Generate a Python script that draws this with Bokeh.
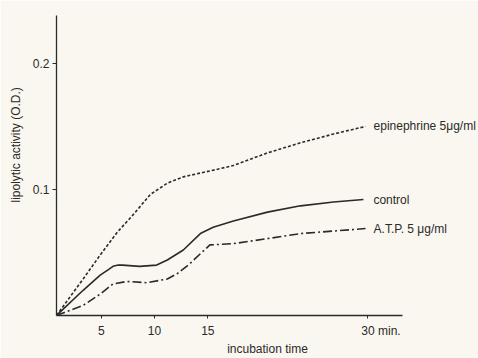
from bokeh.plotting import figure
from bokeh.models import Range1d, Label, FixedTicker, Title
from bokeh.embed import file_html
from bokeh.resources import INLINE

# ---- data ----
epi_t = [0.8, 3.3, 4.9, 6.5, 8.0, 9.6, 11.2, 12.7, 14.3, 15.9, 17.4, 19.0, 20.6, 23.7, 26.8, 29.8]
epi_v = [0.0, 0.029, 0.048, 0.066, 0.080, 0.096, 0.105, 0.110, 0.113, 0.116, 0.119, 0.124, 0.129, 0.137, 0.144, 0.150]

ctl_t = [0.8, 3.3, 4.9, 5.6, 6.1, 6.6, 7.0, 8.6, 10.2, 11.2, 12.7, 14.3, 15.5, 17.4, 20.6, 23.7, 26.8, 29.6]
ctl_v = [0.0, 0.020, 0.032, 0.036, 0.039, 0.040, 0.040, 0.039, 0.040, 0.044, 0.052, 0.065, 0.070, 0.075, 0.082, 0.087, 0.090, 0.092]

atp_t = [0.8, 3.3, 4.9, 6.1, 7.4, 9.3, 11.2, 12.1, 13.3, 14.3, 15.2, 17.4, 20.6, 23.7, 26.8, 29.8]
atp_v = [0.0, 0.008, 0.017, 0.025, 0.027, 0.026, 0.029, 0.033, 0.041, 0.049, 0.056, 0.057, 0.061, 0.065, 0.067, 0.069]

series_names = ["epinephrine 5\u03bcg/ml", "control", "A.T.P. 5 \u03bcg/ml"]
x_ticks = [5, 10, 15, 30]
x_tick_labels = ["5", "10", "15", "\u2007\u2007\u2007\u200730 min."]
y_ticks = [0.1, 0.2]
y_tick_labels = ["0.1", "0.2"]

INK = "#2a2a2a"
PAPER = "#faf7f0"
FONT = "Liberation Sans"

p = figure(width=478, height=358, output_backend="svg", toolbar_location=None,
           x_range=Range1d(0.8, 40.4), y_range=Range1d(0, 0.238),
           min_border_left=56, min_border_right=0, min_border_top=15, min_border_bottom=43)
p.background_fill_color = PAPER
p.border_fill_color = PAPER
p.outline_line_color = None
p.grid.visible = False

for ax in (p.xaxis, p.yaxis):
    ax.axis_line_color = INK
    ax.axis_line_width = 1.3
    ax.major_tick_line_color = INK
    ax.major_tick_in = 0
    ax.minor_tick_line_color = None
    ax.major_label_text_color = INK
    ax.major_label_text_font = FONT
    ax.major_label_text_font_size = "12px"

p.xaxis.bounds = (0.8, 33.27)
p.xaxis.ticker = FixedTicker(ticks=x_ticks)
p.xaxis.major_label_overrides = dict(zip(x_ticks, x_tick_labels))
p.xaxis.major_tick_out = 3
p.xaxis.major_label_standoff = 5
p.xaxis.axis_label = "incubation time"
p.xaxis.axis_label_standoff = 1
p.xaxis.axis_label_text_font = FONT
p.xaxis.axis_label_text_font_size = "12px"
p.xaxis.axis_label_text_font_style = "normal"
p.xaxis.axis_label_text_color = INK

p.yaxis.ticker = FixedTicker(ticks=y_ticks)
p.yaxis.major_label_overrides = dict(zip(y_ticks, y_tick_labels))
p.yaxis.major_tick_out = 4
p.yaxis.major_label_standoff = 3

p.add_layout(Title(text="lipolytic activity (O.D.)", align="left", offset=113,
                   text_font=FONT, text_font_size="12px", text_font_style="normal",
                   text_color=INK, standoff=13), "left")

p.line(epi_t, epi_v, line_color=INK, line_width=1.6, line_dash="3 2")
p.line(ctl_t, ctl_v, line_color=INK, line_width=1.6)
p.line(atp_t, atp_v, line_color=INK, line_width=1.6, line_dash="9 3 2 3")

ends = [(epi_t[-1], epi_v[-1], 8), (ctl_t[-1], ctl_v[-1], 10), (atp_t[-1], atp_v[-1], 8)]
for name, (tx, vy, off) in zip(series_names, ends):
    p.add_layout(Label(x=tx, y=vy, x_offset=off, text=name, text_color=INK,
                       text_font=FONT, text_font_size="12px", text_baseline="middle"))

open("out.html", "w").write(file_html(p, INLINE))
